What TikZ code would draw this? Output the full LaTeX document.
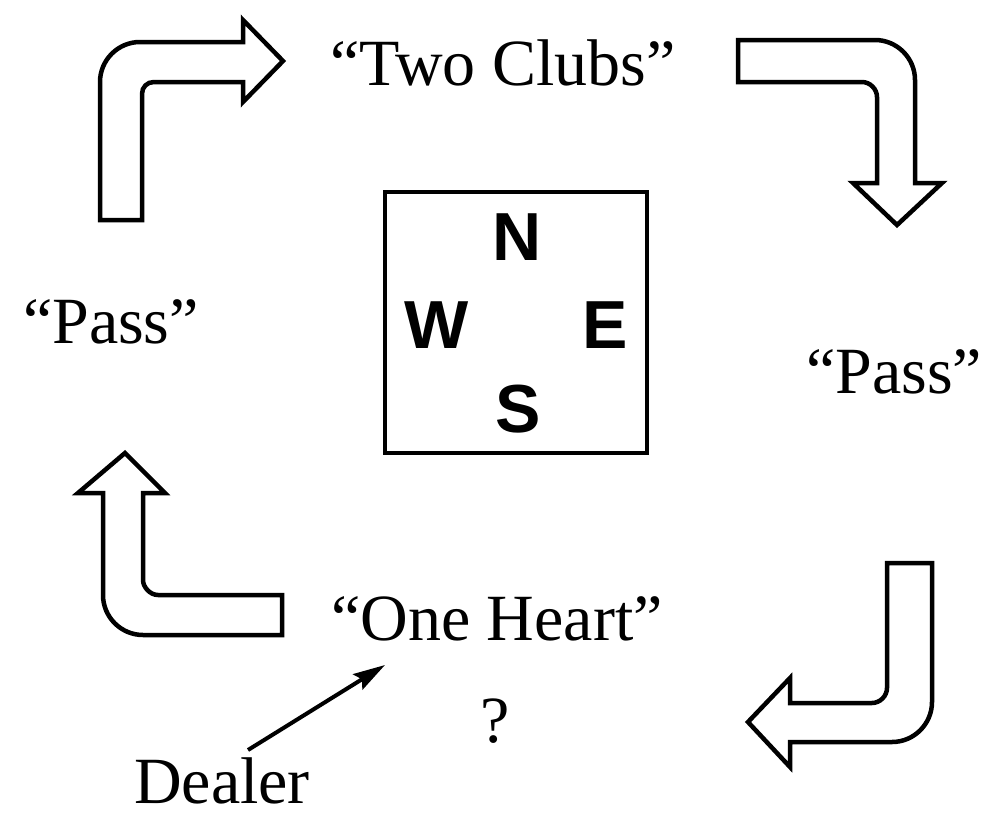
\documentclass[tikz,border=0pt]{standalone}
\usepackage{fontspec}
\setmainfont{Liberation Serif}
\newfontfamily\helv{Liberation Sans}
\usetikzlibrary{arrows.meta}
\tikzset{
  lbl/.style={anchor=base, inner sep=0pt, font=\fontsize{66}{70}\selectfont},
  dir/.style={anchor=base, inner sep=0pt, font=\helv\bfseries\fontsize{68}{70}\selectfont},
  blockarrow/.style={draw=black, line width=4.5pt, line join=miter, fill=white},
  compass/.style={draw=black, line width=4.5pt},
  pointer/.style={line width=4pt, -{Stealth[length=32pt,width=18pt,inset=5pt]}}
}
\begin{document}
\begin{tikzpicture}[x=1pt,y=-1pt]
\useasboundingbox (0,0) rectangle (985,814);
% block arrows
\draw[blockarrow] (100,220) -- (100,82) .. controls (100,60) and (118,42) .. (140,42) -- (243,42) -- (243,20) -- (283,61) -- (243,102) -- (243,82) -- (154,82) .. controls (147,82) and (142,87) .. (142,94) -- (142,220) -- cycle;
\draw[blockarrow] (738,40) -- (875,40) .. controls (897,40) and (915,58) .. (915,80) -- (915,183) -- (942,183) -- (897,225) -- (853,183) -- (877,183) -- (877,97) .. controls (877,89) and (870,82) .. (862,82) -- (738,82) -- cycle;
\draw[blockarrow] (887,563) -- (932,563) -- (932,702) .. controls (932,724) and (914,742) .. (892,742) -- (790,742) -- (790,767) -- (748,722) -- (790,678) -- (790,703) -- (872,703) .. controls (880,703) and (887,696) .. (887,688) -- cycle;
\draw[blockarrow] (282,595) -- (282,635) -- (143,635) .. controls (121,635) and (103,617) .. (103,595) -- (103,493) -- (78,493) -- (125,453) -- (165,493) -- (143,493) -- (143,580) .. controls (143,587) and (150,595) .. (158,595) -- cycle;
% compass box
\node[compass, minimum width=262pt, minimum height=261pt, inner sep=0pt] (box) at (516,322.5) {};
\node[dir] (n) at (517,260) {N};
\node[dir] (w) at (437,348) {W};
\node[dir] (e) at (605,348) {E};
\node[dir] (s) at (518,432) {S};
% labels
\node[lbl] (two) at (503,85) {“Two Clubs”};
\node[lbl] (passw) at (111,343) {“Pass”};
\node[lbl] (passe) at (894,393) {“Pass”};
\node[lbl] (one) at (497,640) {“One Heart”};
\node[lbl] (q) at (495,742) {?};
\node[lbl] (dealer) at (222,803) {Dealer};
\coordinate (dstart) at (248,750);
\coordinate (dtip) at (385,665);
\draw[pointer] (dstart) -- (dtip);
\end{tikzpicture}
\end{document}
